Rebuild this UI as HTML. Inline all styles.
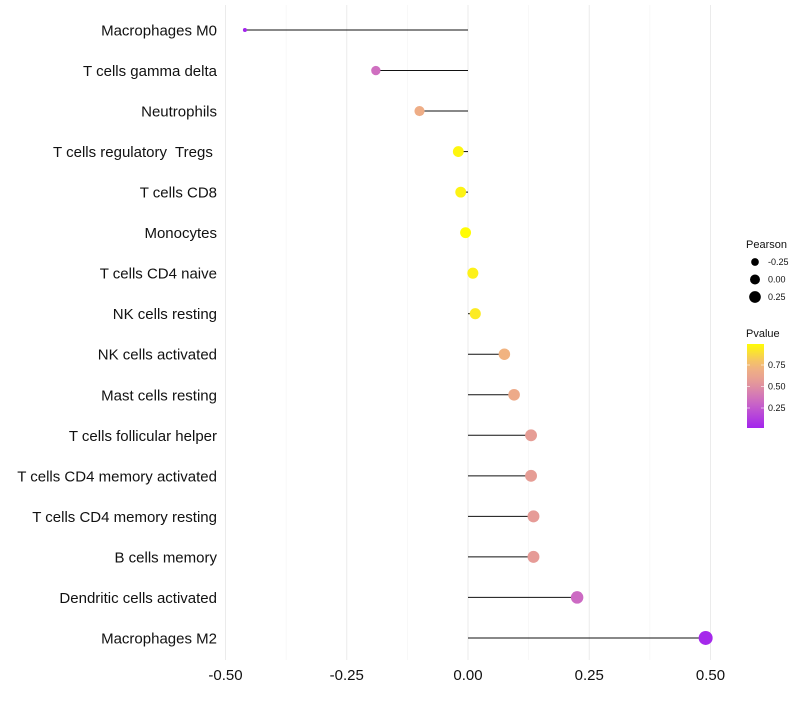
<!DOCTYPE html>
<html><head><meta charset="utf-8"><style>
body{margin:0;background:#fff;font-family:"Liberation Sans",sans-serif}
text{white-space:pre}
</style></head><body>
<svg id="c" width="800" height="700" xmlns="http://www.w3.org/2000/svg" font-family="Liberation Sans, sans-serif" xml:space="preserve"></svg>
<script>
const categories=["Macrophages M0","T cells gamma delta","Neutrophils","T cells regulatory  Tregs ","T cells CD8","Monocytes","T cells CD4 naive","NK cells resting","NK cells activated","Mast cells resting","T cells follicular helper","T cells CD4 memory activated","T cells CD4 memory resting","B cells memory","Dendritic cells activated","Macrophages M2"];
const pearson=[-0.46,-0.19,-0.10,-0.02,-0.015,-0.005,0.01,0.015,0.075,0.095,0.13,0.13,0.135,0.135,0.225,0.49];
const pvalues=[0.02,0.35,0.68,0.97,0.96,0.99,0.95,0.93,0.72,0.66,0.57,0.57,0.56,0.56,0.33,0.04];
const xTicks=[-0.5,-0.25,0,0.25,0.5];
const xTickLabels=["-0.50","-0.25","0.00","0.25","0.50"];
const sizeLegend=[-0.25,0,0.25];
const colorLegend=[0.25,0.5,0.75];

const svg=document.getElementById('c');const NS="http://www.w3.org/2000/svg";
function mk(t,a,p){const e=document.createElementNS(NS,t);for(const k in a)e.setAttribute(k,a[k]);(p||svg).appendChild(e);return e;}
const x=v=>468+v*485;
const y=i=>30+i*40.53;
const rScale=v=>2+5*Math.sqrt(Math.max(0,(v+0.46)/0.95));
const stops=[[0,[160,32,240]],[0.35,[207,111,192]],[0.55,[229,154,152]],[0.75,[243,183,124]],[1,[255,255,0]]];
function col(p){for(let i=1;i<stops.length;i++){if(p<=stops[i][0]){const a=stops[i-1],b=stops[i],t=(p-a[0])/(b[0]-a[0]);return 'rgb('+a[1].map((c,j)=>Math.round(c+(b[1][j]-c)*t)).join(',')+')';}}return 'rgb(255,255,0)';}
const minor=[-0.375,-0.125,0.125,0.375];
for(const v of minor){const g=mk('line',{x1:x(v),x2:x(v),y1:5,y2:660,stroke:'#f2f2f2','stroke-width':0.6});

}
xTicks.forEach((v,i)=>{const g=mk('line',{x1:x(v),x2:x(v),y1:5,y2:660,stroke:'#ebebeb','stroke-width':1});


const t=mk('text',{x:x(v),y:680,'text-anchor':'middle','font-size':15,fill:'#111'});t.textContent=xTickLabels[i];

});
categories.forEach((c,i)=>{
const t=mk('text',{x:217,y:y(i)+5.5,'text-anchor':'end','font-size':15,fill:'#111'});t.textContent=c;


const l=mk('line',{x1:x(0),x2:x(pearson[i]),y1:y(i),y2:y(i),stroke:'#111','stroke-width':1});


const d=mk('circle',{cx:x(pearson[i]),cy:y(i),r:rScale(pearson[i]),fill:col(pvalues[i])});


});
const lt=mk('text',{x:746,y:248,'font-size':11,fill:'#111'});lt.textContent='Pearson';


sizeLegend.forEach((v,i)=>{const cy=262+i*17.5;
const d=mk('circle',{cx:755,cy:cy,r:rScale(v)-0.5,fill:'#000'});


const t=mk('text',{x:768,y:cy+3,'font-size':9,fill:'#111'});t.textContent=v===0?'0.00':v.toFixed(2);

});
const pt=mk('text',{x:746,y:337,'font-size':11,fill:'#111'});pt.textContent='Pvalue';


const defs=mk('defs',{});const gr=mk('linearGradient',{id:'g',x1:0,y1:1,x2:0,y2:0},defs);
for(let k=0;k<=10;k++){const p=0.02+k*0.097;mk('stop',{offset:k/10,'stop-color':col(p)},gr);}
const bar=mk('rect',{x:747,y:344,width:17,height:84,fill:'url(#g)'});


colorLegend.forEach(v=>{const cy=408-(v-0.25)*86;
mk('line',{x1:747,x2:750,y1:cy,y2:cy,stroke:'#fff','stroke-width':0.6});mk('line',{x1:761,x2:764,y1:cy,y2:cy,stroke:'#fff','stroke-width':0.6});
const t=mk('text',{x:768,y:cy+3,'font-size':9,fill:'#111'});t.textContent=v.toFixed(2);

});
</script>
</body></html>
